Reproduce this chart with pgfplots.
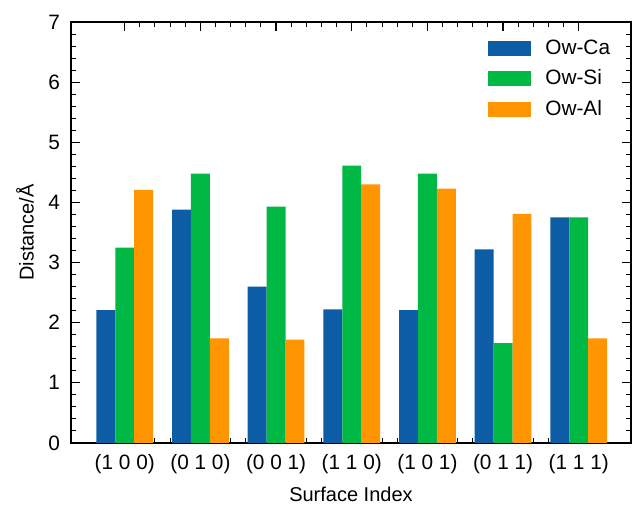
\documentclass[border=0pt]{standalone}
\usepackage{fontspec}
\setmainfont{Liberation Sans}
\usepackage{pgfplots}
\pgfplotsset{compat=1.18}
\definecolor{cblue}{HTML}{0C5DA5}
\definecolor{cgreen}{HTML}{00B945}
\definecolor{corange}{HTML}{FF9500}
\begin{document}
\begin{tikzpicture}
\begin{axis}[
  scale only axis, width=280pt, height=210.5pt,
  at={(0,0)}, anchor=south west,
  xmin=-0.71, xmax=6.69, ymin=0, ymax=7,
  ybar=0pt, bar width=0.25,
  xtick={0,1,2,3,4,5,6},
  xticklabels={(1 0 0),(0 1 0),(0 0 1),(1 1 0),(1 0 1),(0 1 1),(1 1 1)},
  ytick={0,1,2,3,4,5,6,7},
  minor x tick num=4, minor y tick num=4,
  tick align=inside, major tick length=4.5pt, minor tick length=2.5pt,
  every tick/.style={black, line width=0.6pt},
  minor tick style={black, line width=0.5pt},
  axis line style={line width=0.7pt},
  /pgf/number format/assume math mode=true,
  tick label style={font=\fontsize{10.4}{12}\selectfont},
  xticklabel style={anchor=center, yshift=-10.5pt},
  yticklabel style={xshift=-2pt},
  label style={font=\fontsize{10.4}{12}\selectfont},
  xlabel={Surface Index}, ylabel={Distance/Å},
  every axis x label/.style={at={(axis description cs:0.5,-0.121)}, anchor=center},
  every axis y label/.style={at={(axis description cs:-0.0821,0.5)}, rotate=90, anchor=center},
  legend image code/.code={\fill[#1] (0pt,-3.75pt) rectangle (21.5pt,3.75pt);},
  legend style={at={(axis description cs:0.7446,0.959)}, anchor=north west,
    draw=none, fill=none, inner sep=0pt, row sep=6.3pt, column sep=7pt,
    font=\fontsize{10.4}{12}\selectfont, nodes={inner sep=0pt, anchor=west}},
  legend cell align=left,
]
\addplot[draw=none, fill=cblue] coordinates {(0,2.21) (1,3.88) (2,2.60) (3,2.22) (4,2.21) (5,3.22) (6,3.75)};
\addplot[draw=none, fill=cgreen] coordinates {(0,3.25) (1,4.48) (2,3.93) (3,4.61) (4,4.48) (5,1.66) (6,3.75)};
\addplot[draw=none, fill=corange] coordinates {(0,4.21) (1,1.74) (2,1.72) (3,4.30) (4,4.23) (5,3.81) (6,1.74)};
\legend{Ow-Ca, Ow-Si, Ow-Al}
\end{axis}
\pgfresetboundingbox
\path[use as bounding box] (-35.5pt,-31.5pt) rectangle (281.5pt,221.5pt);
\end{tikzpicture}
\end{document}
